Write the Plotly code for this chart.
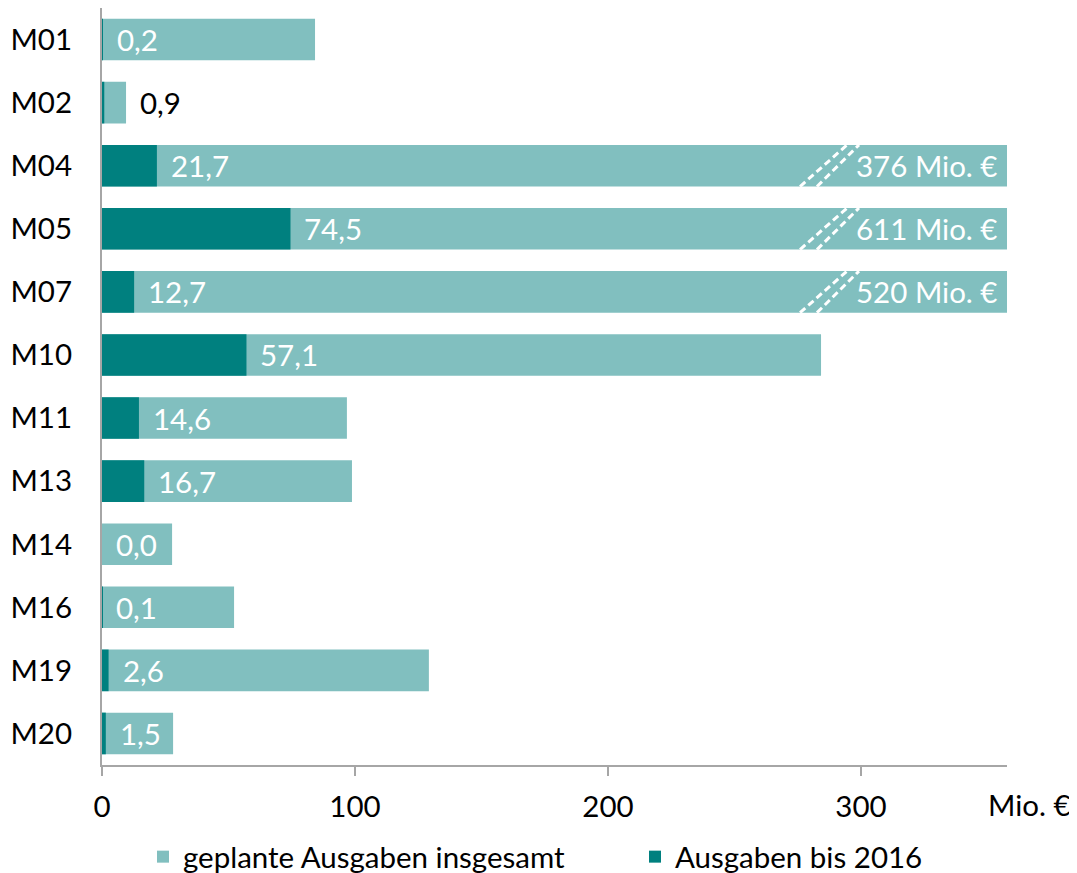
import plotly.graph_objects as go

categories = ["M01", "M02", "M04", "M05", "M07", "M10", "M11", "M13", "M14", "M16", "M19", "M20"]
total_planned = [84.2, 9.5, 376, 611, 520, 284.2, 96.8, 98.8, 27.7, 52.2, 129.2, 28.1]
spent_2016 = [0.2, 0.9, 21.7, 74.5, 12.7, 57.1, 14.6, 16.7, 0.0, 0.1, 2.6, 1.5]
x_ticks = [0, 100, 200, 300]
axis_max = 357.7

LIGHT = "#81BFBF"
DARK = "#00807F"
FONT = "Lato"
FS = 29.5

fig = go.Figure()
fig.add_trace(go.Bar(
    y=categories, x=[min(v, axis_max) for v in total_planned], orientation="h",
    name="geplante Ausgaben insgesamt", marker=dict(color=LIGHT, line=dict(width=0)),
    width=0.66, hoverinfo="skip", legendwidth=447))
fig.add_trace(go.Bar(
    y=categories, x=spent_2016, orientation="h",
    name="Ausgaben bis 2016", marker=dict(color=DARK, line=dict(width=0)),
    width=0.66, hoverinfo="skip", legendwidth=250))

def fmt(v):
    return f"{v:.1f}".replace(".", ",")

annotations = []
shapes = []
for i, (cat, tot, sp) in enumerate(zip(categories, total_planned, spent_2016)):
    inside = (tot - sp) > 20
    annotations.append(dict(x=sp if inside else tot, y=cat, xref="x", yref="y", text=fmt(sp),
                            showarrow=False, xanchor="left", xshift=12,
                            font=dict(color="white" if inside else "black", size=FS, family=FONT)))
    if tot > axis_max:
        annotations.append(dict(x=axis_max, y=cat, xref="x", yref="y", text=f"{tot:.0f} Mio. €",
                                showarrow=False, xanchor="right", xshift=-8,
                                font=dict(color="white", size=FS, family=FONT)))
        for x0, x1 in [(275.9, 294.5), (282.6, 299.2)]:
            shapes.append(dict(type="line", xref="x", yref="y", x0=x0, x1=x1,
                               y0=i + 0.33, y1=i - 0.33,
                               line=dict(color="white", width=3, dash="7px,4px")))

annotations.append(dict(x=1.0254, y=-0.0528, xref="paper", yref="paper", text="Mio. €",
                        showarrow=False, xanchor="center", yanchor="middle",
                        font=dict(color="black", size=FS, family=FONT)))

fig.update_layout(
    width=1069, height=865,
    margin=dict(l=94, r=70, t=0, b=108, autoexpand=False),
    paper_bgcolor="white", plot_bgcolor="white",
    barmode="overlay", bargap=0.34,
    font=dict(family=FONT, size=FS, color="black"),
    showlegend=True,
    legend=dict(orientation="h", x=0.0453, y=-0.1215, xanchor="left", yanchor="middle",
                itemwidth=30, bgcolor="rgba(0,0,0,0)",
                font=dict(size=FS, family=FONT, color="black"), traceorder="normal"),
    annotations=annotations,
    shapes=shapes,
    xaxis=dict(range=[0, axis_max], tickvals=x_ticks, ticktext=[str(t) for t in x_ticks],
               showgrid=False, zeroline=False, showline=True, linecolor="#A6A6A6", linewidth=2,
               ticks="outside", ticklen=9, tickcolor="#A6A6A6", tickwidth=2, automargin=False,
               ticklabelstandoff=6, tickfont=dict(size=FS, family=FONT)),
    yaxis=dict(autorange="reversed", showgrid=False, zeroline=False, showline=True,
               linecolor="#A6A6A6", linewidth=2, ticks="", ticklabelstandoff=22, automargin=False,
               tickfont=dict(size=FS, family=FONT)),
)

fig.write_html("out.html")
